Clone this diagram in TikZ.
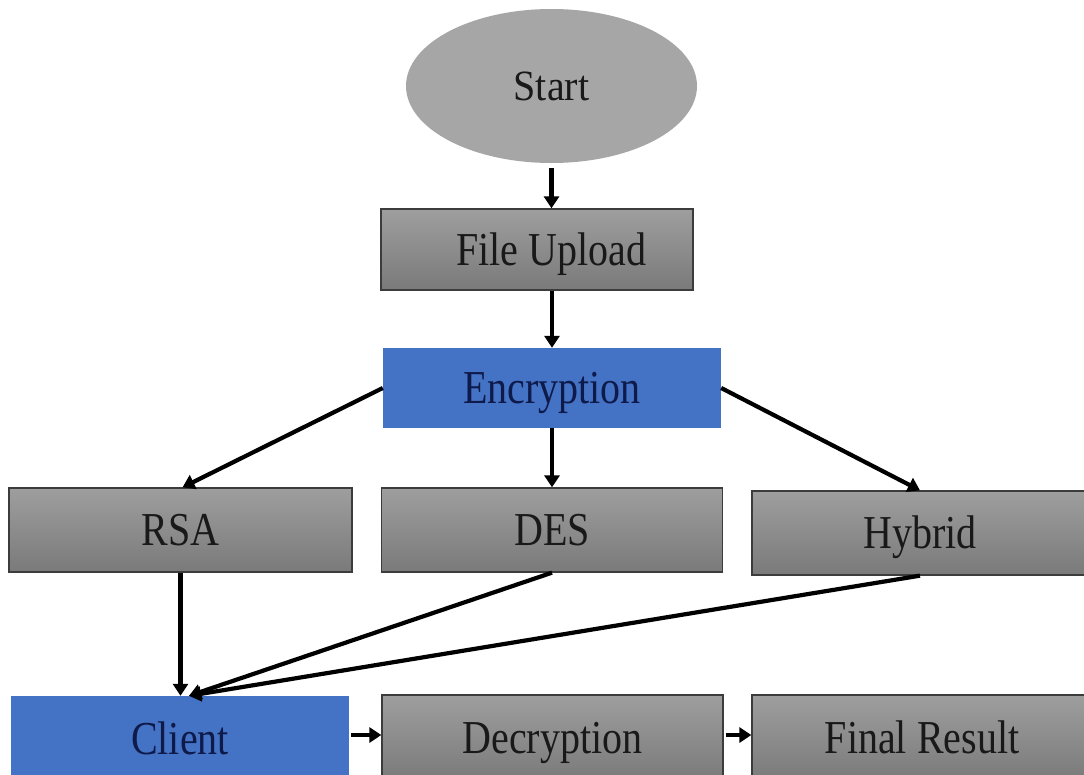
\documentclass[tikz,border=0pt]{standalone}
\usepackage{fontspec}
\setmainfont{Liberation Serif}
\usetikzlibrary{shapes.geometric,arrows.meta,calc}

\definecolor{ovalgray}{HTML}{A6A6A6}
\definecolor{boxtop}{HTML}{9E9E9E}
\definecolor{boxbot}{HTML}{7A7A7A}
\definecolor{boxedge}{HTML}{3C3C3C}
\definecolor{stepblue}{HTML}{4472C4}
\definecolor{navytext}{HTML}{0E1A4A}

% tall label text, centred on its capital height
\newcommand{\lbl}[2][1.18]{\scalebox{1}[#1]{\smash{#2}\vphantom{A}}}

\tikzset{
  labelfont/.style={font=\fontsize{40}{48}\selectfont},
  graybox/.style={rectangle, labelfont, inner sep=0pt, text=black!90,
    top color=boxtop, bottom color=boxbot, draw=boxedge, line width=1.3pt},
  bluebox/.style={rectangle, labelfont, inner sep=0pt, text=navytext,
    fill=stepblue, draw=none},
  startoval/.style={ellipse, labelfont, inner sep=0pt, fill=ovalgray,
    draw=none, text=black!90},
  flow/.style={draw=black, line width=4.2pt,
    -{Triangle[length=12pt,width=15pt]}},
}

\begin{document}
\begin{tikzpicture}[x=1pt,y=-1pt]
  \useasboundingbox (0,0) rectangle (1084,774);
  \clip (0,0) rectangle (1084,774);
  \fill[white] (0,0) rectangle (1084,774);

  % start oval
  \node[startoval, minimum width=291pt, minimum height=154pt]
    (start) at (551.5,86) {\lbl[1.08]{Start}};

  % main column (upload text sits a little right of the box centre)
  \node[graybox, minimum width=312pt, minimum height=81pt]
    (upload) at (537,249.5) {\hspace*{28pt}\lbl{File Upload}};
  \node[bluebox, minimum width=338pt, minimum height=80pt]
    (enc) at (552,388) {\lbl{Encryption}};

  % algorithm row
  \node[graybox, minimum width=343pt, minimum height=84pt]
    (rsa) at (180.5,530) {\lbl{RSA}};
  \node[graybox, minimum width=341pt, minimum height=84pt]
    (des) at (552,530) {\lbl{DES}};
  \node[graybox, minimum width=336pt, minimum height=84pt]
    (hyb) at (920,533) {\lbl{Hybrid}};

  % receiving row
  \node[bluebox, minimum width=338pt, minimum height=86pt]
    (cli) at (180,739) {\lbl{Client}};
  \node[graybox, minimum width=341pt, minimum height=86pt]
    (dec) at (552.5,738) {\lbl{Decryption}};
  \node[graybox, minimum width=340pt, minimum height=86pt]
    (fin) at (922,738) {\lbl{Final Result}};

  % meeting point of the converging arrows on the client box
  \coordinate (meet) at ($(cli.north)+(9,0)$);

  % connectors
  \draw[flow, shorten <=5pt] (start.south) -- (upload.north -| start.south);
  \draw[flow] (upload.south -| enc.north) -- (enc.north);
  \draw[flow] (enc.west) -- ($(rsa.north)+(2,0)$);
  \draw[flow] (enc.south) -- (des.north);
  \draw[flow] (enc.east) -- (hyb.north);
  \draw[flow] (rsa.south) -- (cli.north -| rsa.south);
  \draw[flow] (des.south) -- (meet);
  \draw[flow] (hyb.south) -- (meet);
  \draw[flow, shorten <=2pt] (cli.east |- 0,735) -- (dec.west |- 0,735);
  \draw[flow, shorten <=2pt] (dec.east |- 0,735) -- (fin.west |- 0,735);
\end{tikzpicture}
\end{document}
